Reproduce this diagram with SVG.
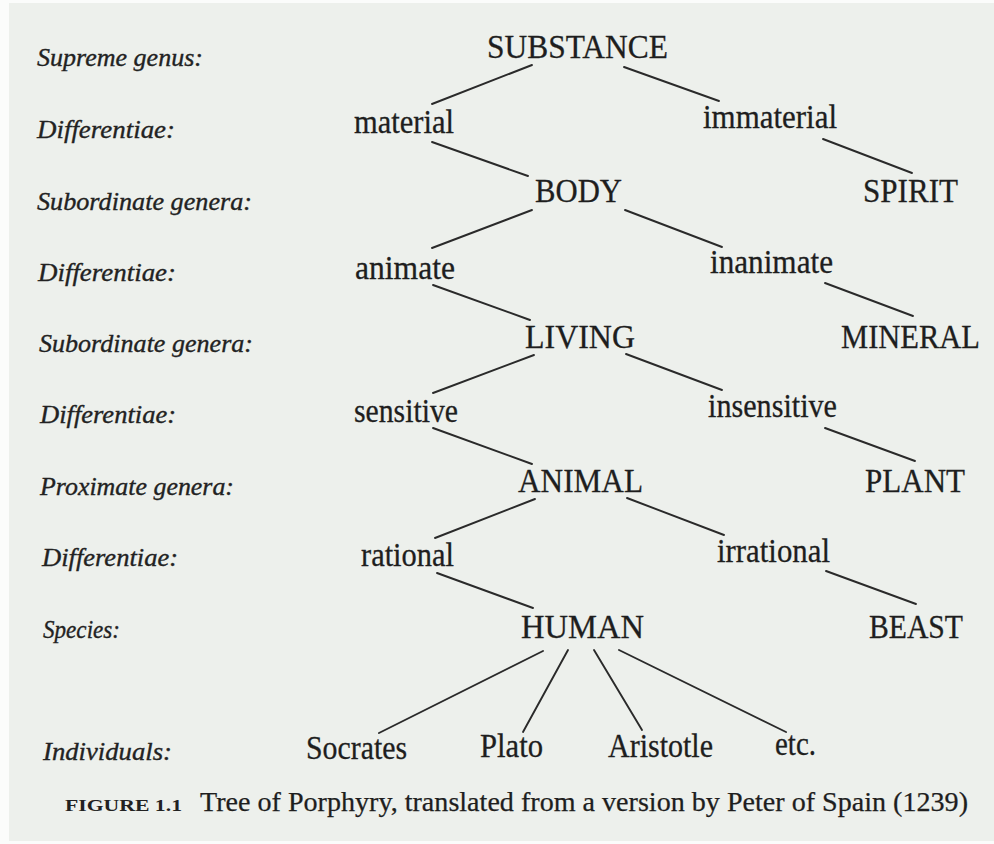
<svg xmlns="http://www.w3.org/2000/svg" width="994" height="844" viewBox="0 0 994 844">
<style>
.bg{fill:#edf0ec}
.lbl{font-family:"Liberation Serif","DejaVu Serif",serif;font-style:italic;font-size:26px;fill:#222;stroke:#222;stroke-width:0.35}
.nd{font-family:"Liberation Serif","DejaVu Serif",serif;font-size:34px;fill:#1e1e1e;stroke:#1e1e1e;stroke-width:0.3}
.cap{font-family:"Liberation Serif","DejaVu Serif",serif;font-size:27px;fill:#1e1e1e;stroke:#1e1e1e;stroke-width:0.25}
.fig{font-family:"Liberation Serif","DejaVu Serif",serif;font-size:17px;font-weight:bold;fill:#222}
.edges line{stroke:#2a2a2a;stroke-width:1.9;stroke-linecap:round}
</style>
<rect x="0" y="0" width="994" height="844" fill="#fbfcfb"/>
<rect class="bg" x="9" y="3" width="985" height="838"/>

<g id="levels">
<text class="lbl" x="37" y="66" textLength="166" lengthAdjust="spacingAndGlyphs">Supreme genus:</text>
<text class="lbl" x="37" y="138" textLength="138" lengthAdjust="spacingAndGlyphs">Differentiae:</text>
<text class="lbl" x="37" y="210" textLength="215" lengthAdjust="spacingAndGlyphs">Subordinate genera:</text>
<text class="lbl" x="38" y="281" textLength="138" lengthAdjust="spacingAndGlyphs">Differentiae:</text>
<text class="lbl" x="39" y="352" textLength="214" lengthAdjust="spacingAndGlyphs">Subordinate genera:</text>
<text class="lbl" x="40" y="423" textLength="136" lengthAdjust="spacingAndGlyphs">Differentiae:</text>
<text class="lbl" x="40" y="495" textLength="194" lengthAdjust="spacingAndGlyphs">Proximate genera:</text>
<text class="lbl" x="42" y="566" textLength="136" lengthAdjust="spacingAndGlyphs">Differentiae:</text>
<text class="lbl" x="43" y="638" textLength="77" lengthAdjust="spacingAndGlyphs">Species:</text>
<text class="lbl" x="43" y="760" textLength="129" lengthAdjust="spacingAndGlyphs">Individuals:</text>
</g>

<g class="edges" id="connectors">
<line x1="532" y1="65" x2="432" y2="104"/>
<line x1="624" y1="67" x2="719" y2="101"/>
<line x1="432" y1="142" x2="528" y2="176"/>
<line x1="823" y1="139" x2="912" y2="173"/>
<line x1="532" y1="210" x2="432" y2="248"/>
<line x1="625" y1="210" x2="722" y2="247"/>
<line x1="433" y1="285" x2="530" y2="320"/>
<line x1="825" y1="283" x2="913" y2="316"/>
<line x1="534" y1="355" x2="433" y2="393"/>
<line x1="626" y1="354" x2="722" y2="390"/>
<line x1="433" y1="428" x2="532" y2="464"/>
<line x1="825" y1="428" x2="915" y2="461"/>
<line x1="535" y1="499" x2="435" y2="538"/>
<line x1="627" y1="498" x2="724" y2="535"/>
<line x1="437" y1="573" x2="533" y2="608"/>
<line x1="826" y1="571" x2="916" y2="604"/>
<line x1="543" y1="651" x2="379" y2="733"/>
<line x1="568" y1="650" x2="523" y2="732"/>
<line x1="594" y1="650" x2="642" y2="730"/>
<line x1="619" y1="650" x2="786" y2="732"/>
</g>

<g id="n-substance"><text class="nd" x="487" y="58" textLength="181" lengthAdjust="spacingAndGlyphs">SUBSTANCE</text></g>
<g id="n-material"><text class="nd" x="354" y="133" textLength="100" lengthAdjust="spacingAndGlyphs">material</text></g>
<g id="n-immaterial"><text class="nd" x="703" y="128" textLength="134" lengthAdjust="spacingAndGlyphs">immaterial</text></g>
<g id="n-body"><text class="nd" x="535" y="202" textLength="87" lengthAdjust="spacingAndGlyphs">BODY</text></g>
<g id="n-spirit"><text class="nd" x="863" y="202" textLength="95" lengthAdjust="spacingAndGlyphs">SPIRIT</text></g>
<g id="n-animate"><text class="nd" x="355" y="279" textLength="100" lengthAdjust="spacingAndGlyphs">animate</text></g>
<g id="n-inanimate"><text class="nd" x="710" y="273" textLength="123" lengthAdjust="spacingAndGlyphs">inanimate</text></g>
<g id="n-living"><text class="nd" x="525" y="348" textLength="110" lengthAdjust="spacingAndGlyphs">LIVING</text></g>
<g id="n-mineral"><text class="nd" x="841" y="348" textLength="139" lengthAdjust="spacingAndGlyphs">MINERAL</text></g>
<g id="n-sensitive"><text class="nd" x="354" y="422" textLength="104" lengthAdjust="spacingAndGlyphs">sensitive</text></g>
<g id="n-insensitive"><text class="nd" x="708" y="417" textLength="129" lengthAdjust="spacingAndGlyphs">insensitive</text></g>
<g id="n-animal"><text class="nd" x="518" y="492" textLength="125" lengthAdjust="spacingAndGlyphs">ANIMAL</text></g>
<g id="n-plant"><text class="nd" x="865" y="492" textLength="100" lengthAdjust="spacingAndGlyphs">PLANT</text></g>
<g id="n-rational"><text class="nd" x="361" y="566" textLength="93" lengthAdjust="spacingAndGlyphs">rational</text></g>
<g id="n-irrational"><text class="nd" x="717" y="562" textLength="113" lengthAdjust="spacingAndGlyphs">irrational</text></g>
<g id="n-human"><text class="nd" x="521" y="638" textLength="123" lengthAdjust="spacingAndGlyphs">HUMAN</text></g>
<g id="n-beast"><text class="nd" x="869" y="638" textLength="94" lengthAdjust="spacingAndGlyphs">BEAST</text></g>
<g id="n-socrates"><text class="nd" x="306" y="759" textLength="101" lengthAdjust="spacingAndGlyphs">Socrates</text></g>
<g id="n-plato"><text class="nd" x="480" y="757" textLength="63" lengthAdjust="spacingAndGlyphs">Plato</text></g>
<g id="n-aristotle"><text class="nd" x="608" y="757" textLength="105" lengthAdjust="spacingAndGlyphs">Aristotle</text></g>
<g id="n-etc"><text class="nd" x="775" y="755" textLength="41" lengthAdjust="spacingAndGlyphs">etc.</text></g>

<g id="caption">
<text class="fig" x="65" y="811" textLength="117" lengthAdjust="spacingAndGlyphs">FIGURE 1.1</text>
<text class="cap" x="200" y="811" textLength="768" lengthAdjust="spacingAndGlyphs">Tree of Porphyry, translated from a version by Peter of Spain (1239)</text>
</g>
</svg>
